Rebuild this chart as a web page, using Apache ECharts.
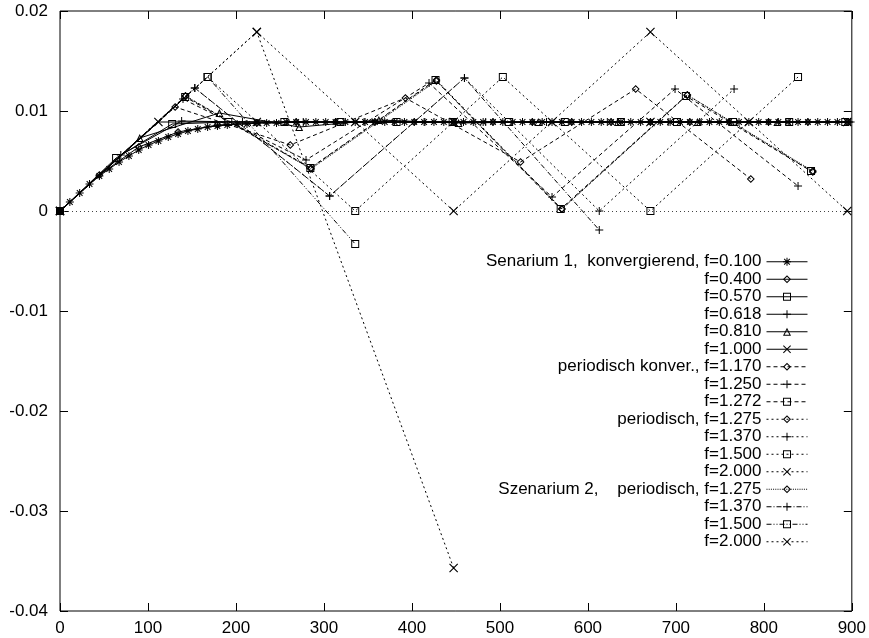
<!DOCTYPE html>
<html><head><meta charset="utf-8">
<script src="https://cdn.jsdelivr.net/npm/echarts@6/dist/echarts.min.js"></script>
<style>html,body{margin:0;padding:0;background:#fff}#c{width:869px;height:638px}</style>
</head><body><div id="c"></div>
<script>
// ---- x positions (time) per series ----
const x_f0100 = [0, 11.19, 22.37, 33.56, 44.74, 55.93, 67.11, 78.30, 89.48, 100.67,
  111.85, 123.04, 134.22, 145.41, 156.59, 167.78, 178.96, 190.15, 201.33, 212.52,
  223.7, 234.89, 246.07, 257.26, 268.44, 279.63, 290.81, 302.0, 313.18, 324.37,
  335.55, 346.74, 357.92, 369.11, 380.29, 391.48, 402.66, 413.85, 425.03, 436.22,
  447.4, 458.59, 469.77, 480.96, 492.14, 503.33, 514.51, 525.7, 536.88, 548.07,
  559.25, 570.44, 581.62, 592.81, 603.99, 615.18, 626.36, 637.55, 648.73, 659.92,
  671.1, 682.29, 693.47, 704.66, 715.84, 727.03, 738.21, 749.4, 760.58, 771.77,
  782.95, 794.14, 805.32, 816.51, 827.69, 838.88, 850.06, 861.25, 872.43, 883.62,
  894.8, 905.99];
const x_f0400 = [0, 44.74, 89.48, 134.22, 178.96, 223.7, 268.44, 313.18, 357.92, 402.66,
  447.4, 492.14, 536.88, 581.62, 626.36, 671.1, 715.84, 760.58, 805.32, 850.06, 894.8];
const x_f0570 = [0, 63.75, 127.51, 191.26, 255.02, 318.77, 382.53, 446.28, 510.04, 573.79,
  637.55, 701.30, 765.05, 828.81, 892.56];
const x_f0618 = [0, 69.12, 138.25, 207.37, 276.49, 345.62, 414.74, 483.86, 552.99, 622.11,
  691.23, 760.36, 829.48, 898.6];
const x_f0810 = [0, 90.6, 181.2, 271.8, 362.4, 453.0, 543.6, 634.2, 724.8, 815.4];
const x_f1000 = [0, 111.85, 223.7, 335.55, 447.4, 559.25, 671.1, 782.95, 894.8];
const x_f1170 = [0, 130.86, 261.73, 392.59, 523.46, 654.32, 785.19];
const x_f1250 = [0, 139.81, 279.63, 419.44, 559.25, 699.06, 838.88];
const x_f1272 = [0, 142.27, 284.55, 426.82, 569.09, 711.37, 853.64];
const x_f1275 = [0, 142.61, 285.22, 427.83, 570.44, 713.04, 855.65];
const x_f1370 = [0, 153.23, 306.47, 459.70, 612.94, 766.17];
const x_f1500 = [0, 167.78, 335.55, 503.33, 671.1, 838.88];
const x_f2000 = [0, 223.7, 447.4, 671.1, 894.8];
const x_s2_1370 = [0, 153.23, 306.47, 459.70, 612.94];
const x_s2_1500 = [0, 167.78, 335.55];
const x_s2_2000 = [0, 223.7, 447.4];

// ---- y values per series ----
const y_f0100 = [0, 0.0009, 0.0018, 0.0027, 0.0035, 0.0042, 0.0049, 0.0055, 0.0061, 0.0066,
  0.0070, 0.0074, 0.0077, 0.0080, 0.0082, 0.0084, 0.0085, 0.0086, 0.0087, 0.0087,
  0.0088, 0.0088, 0.0088, 0.0089, 0.0089, 0.0089, 0.0089, 0.0089, 0.0089, 0.0089,
  0.0089, 0.0089, 0.0089, 0.0089, 0.0089, 0.0089, 0.0089, 0.0089, 0.0089, 0.0089,
  0.0089, 0.0089, 0.0089, 0.0089, 0.0089, 0.0089, 0.0089, 0.0089, 0.0089, 0.0089,
  0.0089, 0.0089, 0.0089, 0.0089, 0.0089, 0.0089, 0.0089, 0.0089, 0.0089, 0.0089,
  0.0089, 0.0089, 0.0089, 0.0089, 0.0089, 0.0089, 0.0089, 0.0089, 0.0089, 0.0089,
  0.0089, 0.0089, 0.0089, 0.0089, 0.0089, 0.0089, 0.0089, 0.0089, 0.0089, 0.0089,
  0.0089, 0.0089];
const y_f0400 = [0, 0.0036, 0.0064, 0.0079, 0.0086, 0.0088, 0.0089, 0.0089, 0.0089, 0.0089,
  0.0089, 0.0089, 0.0089, 0.0089, 0.0089, 0.0089, 0.0089, 0.0089, 0.0089, 0.0089, 0.0089];
const y_f0570 = [0, 0.0053, 0.0087, 0.0089, 0.0089, 0.0089, 0.0089, 0.0089, 0.0089, 0.0089,
  0.0089, 0.0089, 0.0089, 0.0089, 0.0089];
const y_f0618 = [0, 0.0056, 0.0090, 0.0089, 0.0089, 0.0089, 0.0089, 0.0089, 0.0089, 0.0089,
  0.0089, 0.0089, 0.0089, 0.0089];
const y_f0810 = [0, 0.0073, 0.0098, 0.0084, 0.0091, 0.0088, 0.0089, 0.0089, 0.0089, 0.0089];
const y_f1000 = [0, 0.0089, 0.0089, 0.0089, 0.0089, 0.0089, 0.0089, 0.0089, 0.0089];
const y_f1170 = [0, 0.0104, 0.0066, 0.0113, 0.0049, 0.0122, 0.0032];
const y_f1250 = [0, 0.0112, 0.0051, 0.0128, 0.0014, 0.0122, 0.0025];
const y_f1272 = [0, 0.0114, 0.0043, 0.0131, 0.0002, 0.0115, 0.0040];
const y_p1275 = [0, 0.0115, 0.0043, 0.0131, 0.0002, 0.0116, 0.0039];
const y_p1370 = [0, 0.0123, 0.0015, 0.0133, 0.0000, 0.0122];
const y_p1500 = [0, 0.0134, 0.0000, 0.0134, 0.0000, 0.0134];
const y_p2000 = [0, 0.0179, 0.0000, 0.0179, 0.0000];
const y_s2_1275 = [0, 0.0115, 0.0042, 0.0130, 0.0002, 0.0116, 0.0040];
const y_s2_1370 = [0, 0.0123, 0.0015, 0.0133, -0.0019];
const y_s2_1500 = [0, 0.0134, -0.0033];
const y_s2_2000 = [0, 0.0179, -0.0357];

// ---- legend labels ----
const legendLabels = [
  'Senarium 1,  konvergierend, f=0.100', 'f=0.400', 'f=0.570', 'f=0.618', 'f=0.810', 'f=1.000',
  'periodisch konver., f=1.170', 'f=1.250', 'f=1.272',
  'periodisch, f=1.275', 'f=1.370', 'f=1.500', 'f=2.000',
  'Szenarium 2,    periodisch, f=1.275', 'f=1.370', 'f=1.500', 'f=2.000'
];

// ---- axis ticks ----
const xTicks = {min: 0, max: 900, step: 100};
const yTicks = {min: -0.04, max: 0.02, step: 0.01};

// outline symbols as filled rings / bars (nonzero winding)
const SYM = {
  asterisk: 'path://M4.375,0L5.625,0L5.625,10L4.375,10ZM0,4.375L10,4.375L10,5.625L0,5.625ZM1,1.9L1.9,1L9,8.1L8.1,9ZM1.9,9L1,8.1L8.1,1L9,1.9Z',
  diamond: 'path://M5,0L10,5L5,10L0,5ZM5,1.8L1.8,5L5,8.2L8.2,5Z',
  square: 'path://M0,0L10,0L10,10L0,10ZM1.25,1.25L1.25,8.75L8.75,8.75L8.75,1.25Z',
  plus: 'path://M4.375,0L5.625,0L5.625,10L4.375,10ZM0,4.375L10,4.375L10,5.625L0,5.625Z',
  triangle: 'path://M5,0L10,10L0,10ZM5,2.8L2.02,8.75L7.98,8.75Z',
  cross: 'path://M0,0.9L0.9,0L10,9.1L9.1,10ZM0.9,10L0,9.1L9.1,0L10,0.9Z'
};
const DASH = {
  solid: 'solid',
  konver: [4, 3],
  period: [2, 3],
  s2dot: [1, 1.2],
  s2dashdot: [5, 2, 1, 2],
  s2dashdot2: [5, 2, 1, 2, 1, 2],
  s2dashdot3: [2, 3]
};

const defs = [
  ['s1_0100', x_f0100, y_f0100, 'asterisk', 'solid'],
  ['s1_0400', x_f0400, y_f0400, 'diamond', 'solid'],
  ['s1_0570', x_f0570, y_f0570, 'square', 'solid'],
  ['s1_0618', x_f0618, y_f0618, 'plus', 'solid'],
  ['s1_0810', x_f0810, y_f0810, 'triangle', 'solid'],
  ['s1_1000', x_f1000, y_f1000, 'cross', 'solid'],
  ['s1_1170', x_f1170, y_f1170, 'diamond', 'konver'],
  ['s1_1250', x_f1250, y_f1250, 'plus', 'konver'],
  ['s1_1272', x_f1272, y_f1272, 'square', 'konver'],
  ['s1_1275', x_f1275, y_p1275, 'diamond', 'period'],
  ['s1_1370', x_f1370, y_p1370, 'plus', 'period'],
  ['s1_1500', x_f1500, y_p1500, 'square', 'period'],
  ['s1_2000', x_f2000, y_p2000, 'cross', 'period'],
  ['s2_1275', x_f1275, y_s2_1275, 'diamond', 's2dot'],
  ['s2_1370', x_s2_1370, y_s2_1370, 'plus', 's2dashdot'],
  ['s2_1500', x_s2_1500, y_s2_1500, 'square', 's2dashdot2'],
  ['s2_2000', x_s2_2000, y_s2_2000, 'cross', 's2dashdot3']
];
const labelOf = {};
defs.forEach((d, i) => { labelOf[d[0]] = legendLabels[i]; });

function pairs(xs, ys) { return xs.map((x, i) => [x, ys[i]]); }

const FONT = 'Liberation Sans, Arial, Helvetica, sans-serif';

const series = defs.map((d, i) => {
  const s = {
    name: d[0], type: 'line', xAxisIndex: 0, yAxisIndex: 0,
    data: pairs(d[1], d[2]),
    symbol: SYM[d[3]], symbolSize: d[3] === 'cross' ? 9 : 8,
    color: '#000',
    itemStyle: {color: '#000'},
    lineStyle: {color: '#000', width: 1, type: DASH[d[4]]},
    clip: true, z: 2 + i,
    emphasis: {disabled: true}
  };
  if (i === 0) {
    s.markLine = {
      silent: true, symbol: 'none', label: {show: false},
      lineStyle: {color: '#444', width: 1, type: [1, 3]},
      data: [{yAxis: 0}]
    };
    s.markPoint = {
      silent: true, symbol: 'rect', symbolSize: 8, label: {show: false},
      itemStyle: {color: '#000'},
      data: [{coord: [0, 0]}]
    };
  }
  return s;
});

const tickStyle = {inside: true, length: 8, lineStyle: {color: '#000', width: 1}};
const hiddenLine = {show: false, onZero: false};
const chart = echarts.init(document.getElementById('c'), null, {renderer: 'canvas'});
chart.setOption({
  animation: false,
  backgroundColor: '#fff',
  textStyle: {fontFamily: FONT},
  grid: {left: 60, right: 16, top: 11, bottom: 27, show: true, borderColor: '#000', borderWidth: 1},
  xAxis: [
    {type: 'value', min: xTicks.min, max: xTicks.max, interval: xTicks.step, position: 'bottom',
     axisLine: hiddenLine, axisTick: tickStyle, splitLine: {show: false},
     axisLabel: {color: '#000', fontSize: 17, fontFamily: FONT, margin: 9}},
    {type: 'value', min: xTicks.min, max: xTicks.max, interval: xTicks.step, position: 'top',
     axisLine: hiddenLine, axisTick: tickStyle, splitLine: {show: false}, axisLabel: {show: false}}
  ],
  yAxis: [
    {type: 'value', min: yTicks.min, max: yTicks.max, interval: yTicks.step, position: 'left',
     axisLine: hiddenLine, axisTick: tickStyle, splitLine: {show: false},
     axisLabel: {color: '#000', fontSize: 17, fontFamily: FONT, margin: 12}},
    {type: 'value', min: yTicks.min, max: yTicks.max, interval: yTicks.step, position: 'right',
     axisLine: hiddenLine, axisTick: tickStyle, splitLine: {show: false}, axisLabel: {show: false}}
  ],
  legend: {
    orient: 'vertical', align: 'right', right: 61, top: 253, padding: 0,
    itemWidth: 41, itemHeight: 10, itemGap: 0, selectedMode: false,
    data: defs.map(d => d[0]),
    formatter: name => labelOf[name],
    lineStyle: {width: 1},
    textStyle: {color: '#000', fontSize: 17, fontFamily: FONT, lineHeight: 17.5}
  },
  series: series
});
</script>
</body></html>
